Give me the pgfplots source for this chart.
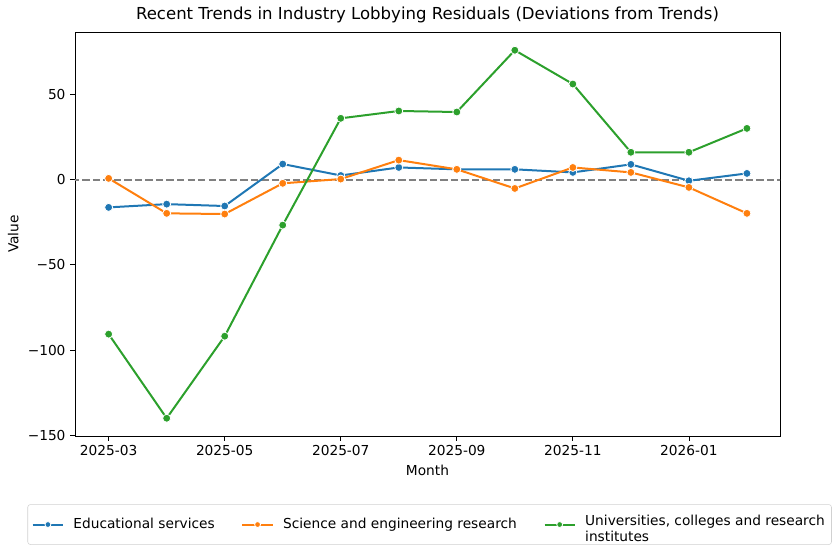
\documentclass[border=0pt]{standalone}
\usepackage{fontspec}
\setmainfont{DejaVu Sans}
\usepackage{pgfplots}
\pgfplotsset{compat=1.18}
\definecolor{c1}{HTML}{1F77B4}
\definecolor{c2}{HTML}{FF7F0E}
\definecolor{c3}{HTML}{2CA02C}
\begin{document}
\begin{tikzpicture}
\useasboundingbox (-56.25pt,-89.25pt) rectangle (573.75pt,327pt);
\begin{axis}[
  scale only axis,
  width=528.75pt, height=303pt,
  xmin=-0.58, xmax=11.57,
  ymin=-150.3, ymax=86.5,
  xtick={0,2,4,6,8,10},
  xticklabels={2025-03,2025-05,2025-07,2025-09,2025-11,2026-01},
  ytick={-150,-100,-50,0,50},
  yticklabels={−150,−100,−50,0,50},
  tick align=outside,
  tick pos=left,
  major tick length=3.6pt,
  every tick/.style={black, line width=0.6pt},
  axis line style={line width=0.6pt},
  tick label style={font=\fontsize{10.3}{12}\selectfont},
  label style={font=\fontsize{10.3}{12}\selectfont},
  title style={font=\fontsize{12.4}{14}\selectfont, yshift=-3pt},
  title={Recent Trends in Industry Lobbying Residuals (Deviations from Trends)},
  xlabel={Month}, ylabel={Value},
  legend style={at={(0.503,-0.169)}, anchor=north, legend columns=3,
    draw=black!18, rounded corners=2pt, font=\fontsize{10.3}{12}\selectfont,
    /tikz/every odd column/.append style={column sep=5pt},
    /tikz/every even column/.append style={column sep=18pt},
    inner xsep=3pt, inner ysep=5pt},
  legend cell align=left,
  legend image code/.code={\draw[mark repeat=2,mark phase=2,#1,mark size=2.2pt] plot coordinates {(0cm,0cm) (0.4cm,0cm) (0.8cm,0cm)};},
  every axis plot/.append style={line width=1.5pt, mark=*, mark size=3pt},
]
\addplot[forget plot, gray, line width=1.5pt, dash pattern=on 5.5pt off 2.4pt, mark=none] coordinates {(-1,0) (12,0)};
\addplot[c1, mark options={fill=c1, draw=white, line width=0.6pt}] coordinates {
(0,-16.3) (1,-14.4) (2,-15.5) (3,9.1) (4,2.4) (5,7.1) (6,6.0) (7,6.0) (8,4.2) (9,8.9) (10,-0.7) (11,3.6)};
\addlegendentry{Educational services}
\addplot[c2, mark options={fill=c2, draw=white, line width=0.6pt}] coordinates {
(0,0.7) (1,-19.8) (2,-20.2) (3,-2.2) (4,0.3) (5,11.4) (6,6.0) (7,-5.2) (8,7.1) (9,4.2) (10,-4.6) (11,-19.8)};
\addlegendentry{Science and engineering research}
\addplot[c3, mark options={fill=c3, draw=white, line width=0.6pt}] coordinates {
(0,-90.6) (1,-139.9) (2,-91.8) (3,-26.7) (4,35.9) (5,40.2) (6,39.6) (7,75.8) (8,56.0) (9,16.0) (10,16.0) (11,30.0)};
\addlegendentry{\begin{tabular}{@{}l@{}}Universities, colleges and research\\institutes\end{tabular}}
\end{axis}
\end{tikzpicture}
\end{document}
